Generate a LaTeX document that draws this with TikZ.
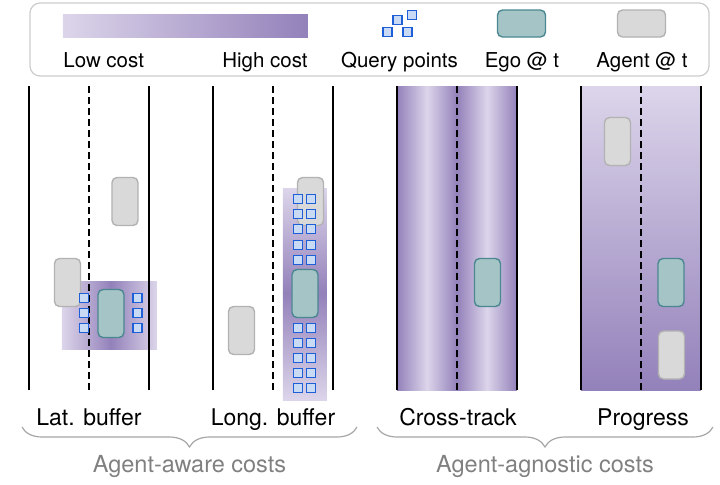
\documentclass[tikz,border=0pt]{standalone}
\usepackage{fontspec}
\setmainfont{TeX Gyre Heros}
\usetikzlibrary{decorations.pathreplacing}

\definecolor{costlo}{HTML}{DCD5EA}
\definecolor{costhi}{HTML}{9381BA}
\definecolor{egofill}{HTML}{A5C4C6}
\definecolor{egoline}{HTML}{4A8791}
\definecolor{agentfill}{HTML}{D9D9D9}
\definecolor{agentline}{HTML}{B2B2B2}
\definecolor{qline}{HTML}{1E5FD8}
\definecolor{qfill}{HTML}{C9DAF5}

\begin{document}
\begin{tikzpicture}[
  x=0.5pt, y=-0.5pt,
  font=\fontsize{11.5}{13}\selectfont,
  road/.style={line width=0.8pt, black},
  lanediv/.style={line width=0.8pt, black, dash pattern=on 3.5pt off 2pt},
  car/.style={rectangle, rounded corners=2.5pt, line width=0.7pt, inner sep=0pt,
              minimum width=13pt, minimum height=24pt},
  ego/.style={car, draw=egoline, fill=egofill},
  agent/.style={car, draw=agentline, fill=agentfill},
  legcar/.style={minimum width=24pt, minimum height=13.5pt},
  qpt/.style={rectangle, draw=qline, fill=qfill, line width=0.85pt,
              minimum size=4.6pt, inner sep=0pt},
  leg/.style={font=\fontsize{10.25}{12}\selectfont, anchor=base, inner sep=0pt},
  lbl/.style={anchor=base, inner sep=0pt},
  grp/.style={anchor=base, inner sep=0pt, text=black!50,
              font=\fontsize{11.75}{14}\selectfont},
  brc/.style={decorate, decoration={brace, mirror, amplitude=10pt},
              draw=black!35, line width=0.6pt},
]
\useasboundingbox (0,0) rectangle (720,484);

% ================= LEGEND =================
\draw[black!20, line width=0.6pt, rounded corners=5pt] (30,3) rectangle (709,76);
\shade[left color=costlo, right color=costhi] (63,14) rectangle (308,37);
\node[leg, anchor=base west] (lowc)  at (63,67)  {Low cost};
\node[leg, anchor=base east] (highc) at (308,67) {High cost};

\node[qpt] (legq1) at (387.5,32) {};
\node[qpt] (legq2) at (407.5,32) {};
\node[qpt] (legq3) at (397.5,20) {};
\node[qpt] (legq4) at (412,15)   {};
\node[leg] (qlbl) at (399.5,67) {Query points};

\node[ego, legcar]   (legego)   at (521.5,23.5) {};
\node[leg]           (egolbl)   at (522,67)     {Ego @ t};
\node[agent, legcar] (legagent) at (641.5,23.5) {};
\node[leg]           (agentlbl) at (642,67)     {Agent @ t};

% ================= COST FIELDS =================
% lat. buffer
\shade[left color=costlo, right color=costhi] (62,281) rectangle (111,349);
\shade[left color=costhi, right color=costlo] (111,281) rectangle (157,349);
% long. buffer
\shade[top color=costlo, bottom color=costhi] (283,188) rectangle (327,293);
\shade[top color=costhi, bottom color=costlo] (283,293) rectangle (327,400);
% cross-track
\shade[left color=costhi, right color=costlo] (397,86) rectangle (427,390);
\shade[left color=costlo, right color=costhi] (427,86) rectangle (457,390);
\shade[left color=costhi, right color=costlo] (457,86) rectangle (487,390);
\shade[left color=costlo, right color=costhi] (487,86) rectangle (517,390);
% progress
\shade[top color=costlo, bottom color=costhi] (581,86) rectangle (701,390);

% ================= ROADS =================
\foreach \x in {29,213,397,581} {
  \draw[road] (\x,86) -- (\x,390) (\x+120,86) -- (\x+120,390);
  \draw[lanediv] (\x+60,86) -- (\x+60,390);
}

% ================= VEHICLES =================
\node[agent] (lat-a1) at (125,201.5) {};
\node[agent] (lat-a2) at (67.5,282.5) {};
\node[ego]   (lat-ego) at (111,313.5) {};

\node[agent] (lon-a1) at (310.5,201.5) {};
\node[agent] (lon-a2) at (241.5,330.5) {};
\node[ego]   (lon-ego) at (305,293.5) {};

\node[ego]   (ct-ego) at (487.5,282.5) {};

\node[agent] (pr-a1) at (617.5,141.5) {};
\node[ego]   (pr-ego) at (671,282.5) {};
\node[agent] (pr-a2) at (671.5,355) {};

% ================= QUERY POINTS =================
\foreach \y [count=\i] in {298,313,328} {
  \node[qpt] (lat-q\i l) at (84,\y) {};
  \node[qpt] (lat-q\i r) at (137.5,\y) {};
}
\foreach \y [count=\i] in {199,214,229,245,260,328,343,358,373,388} {
  \node[qpt] (lon-q\i l) at (298,\y) {};
  \node[qpt] (lon-q\i r) at (311,\y) {};
}

% ================= LABELS =================
\node[lbl] (latlbl) at (89,425)  {Lat. buffer};
\node[lbl] (lonlbl) at (273,425) {Long. buffer};
\node[lbl] (ctlbl)  at (458,425) {Cross-track};
\node[lbl] (prlbl)  at (643,425) {Progress};

\coordinate (awareL) at (22,427);
\coordinate (awareR) at (357,427);
\coordinate (agnL)   at (377,427);
\coordinate (agnR)   at (713,427);
\draw[brc] (awareL) -- (awareR);
\draw[brc] (agnL) -- (agnR);

\node[grp] (aware)    at (189.5,472) {Agent-aware costs};
\node[grp] (agnostic) at (545,472)   {Agent-agnostic costs};

\end{tikzpicture}
\end{document}
